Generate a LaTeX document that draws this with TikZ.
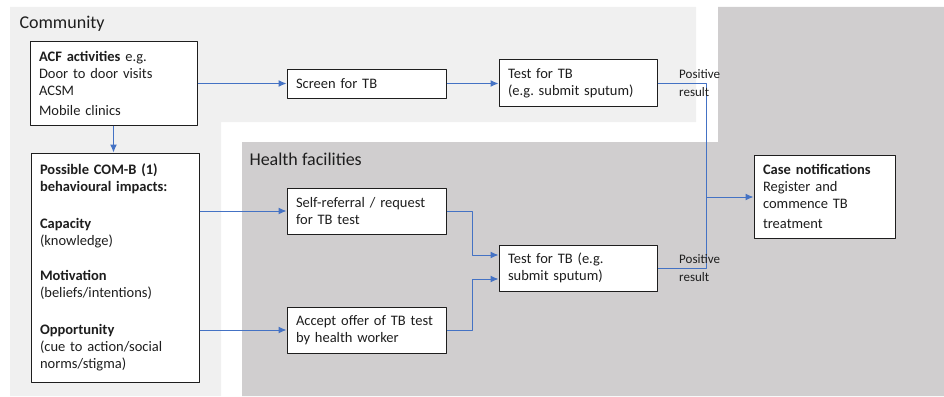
\documentclass[tikz,border=0pt]{standalone}
\usepackage{fontspec}
\setmainfont{Carlito}
\usetikzlibrary{arrows.meta}
\definecolor{commfill}{RGB}{240,240,240}
\definecolor{healthfill}{RGB}{208,206,207}
\definecolor{flowblue}{RGB}{68,114,196}
\definecolor{inkgray}{RGB}{30,30,30}
\begin{document}
\begin{tikzpicture}[x=1pt,y=-1pt,line join=round,text=inkgray,
	box/.style={draw=inkgray,fill=white,line width=1pt,align=left,inner xsep=9pt,inner ysep=3pt,font=\fontsize{14.5}{17}\selectfont},
	lane/.style={font=\fontsize{18}{21}\selectfont,anchor=west},
	note/.style={font=\fontsize{13}{17.5}\selectfont,align=left,anchor=west,inner sep=0pt},
	flow/.style={draw=flowblue,line width=1pt,-{Latex[length=8pt,width=7pt]}},
	wire/.style={draw=flowblue,line width=1pt}]
	\useasboundingbox (0,0) rectangle (944,396);
	% settings: community and health facilities
	\fill[commfill] (10,7) -| (696,122) -| (221,396) -| cycle;
	\fill[healthfill] (718,7) -| (944,396) -| (242,142) -| cycle;
	\node[lane] (community) at (16,24) {Community};
	\node[lane] (health) at (246,159) {Health facilities};
	% boxes
	\node[box,text width=149pt,minimum height=83pt] (acf) at (113.5,83.5) {\textbf{ACF activities} e.g.\\Door to door visits\\ACSM\\[3pt]Mobile clinics};
	\node[box,text width=150pt,minimum height=229pt] (comb) at (115,267.5) {\textbf{Possible COM-B (1)}\\\textbf{behavioural impacts:}\\[20pt]\textbf{Capacity}\\(knowledge)\\[18pt]\textbf{Motivation}\\(beliefs/intentions)\\[20pt]\textbf{Opportunity}\\(cue to action/social\\norms/stigma)};
	\node[box,text width=141pt,minimum height=29pt] (screen) at (366.5,83.5) {Screen for TB};
	\node[box,text width=140pt,minimum height=46pt] (test1) at (578,83) {Test for TB\\(e.g.\ submit sputum)};
	\node[box,text width=141pt,minimum height=46pt] (selfref) at (366.5,211) {Self-referral / request\\for TB test};
	\node[box,text width=141pt,minimum height=46pt] (accept) at (366.5,330) {Accept offer of TB test\\by health worker};
	\node[box,text width=140pt,minimum height=46pt] (test2) at (578,268) {Test for TB (e.g.\\submit sputum)};
	\node[box,text width=123pt,minimum height=83pt] (cases) at (824.5,196.5) {\textbf{Case notifications}\\Register and\\commence TB\\[3pt]treatment};
	% connectors
	\coordinate (jt) at (472,255);
	\coordinate (jb) at (472,279);
	\coordinate (bus) at (706,197);
	\draw[flow] (acf.east) -- (screen.west);
	\draw[flow] (acf.south) -- (acf.south |- comb.north);
	\draw[flow] (screen.east) -- (screen.east -| test1.west);
	\draw[flow] (comb.east |- selfref) -- (selfref.west);
	\draw[flow] (comb.east |- accept) -- (accept.west);
	\draw[flow] (selfref.east) -| (jt) -- (jt -| test2.west);
	\draw[flow] (accept.east) -| (jb) -- (jb -| test2.west);
	\draw[wire] (test1.east) -| (bus |- test2.east) -- (test2.east);
	\draw[flow] (bus) -- (bus -| cases.west);
	\node[note] (pos1) at (679,83) {Positive\\result};
	\node[note] (pos2) at (679,268) {Positive\\result};
\end{tikzpicture}
\end{document}
